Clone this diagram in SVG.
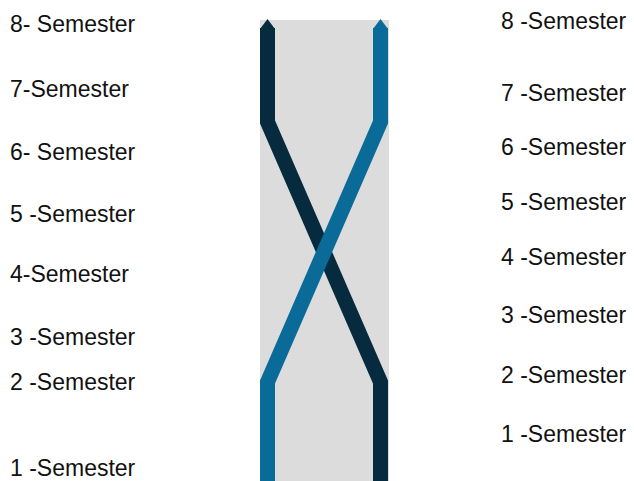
<svg xmlns="http://www.w3.org/2000/svg" width="634" height="481" viewBox="0 0 634 481">
  <style>
    .lbl { font-family: "Liberation Sans", Arial, sans-serif; font-size: 23px; fill: #111111; }
    .dark { stroke: #062a3e; fill: none; stroke-width: 15; stroke-linejoin: miter; }
    .blue { stroke: #0a6b99; fill: none; stroke-width: 15; stroke-linejoin: miter; }
  </style>
  <rect width="634" height="481" fill="#ffffff"/>
  <g id="band">
    <rect x="260" y="20" width="129" height="461" fill="#dcdcdc"/>
  </g>
  <g id="connectors">
    <g id="dark-strand">
      <polygon points="260,29 267.5,19 275,29" fill="#062a3e"/>
      <polyline class="dark" points="267.5,28 267.5,122 380.5,382 380.5,481"/>
    </g>
    <g id="blue-strand">
      <polygon points="373,29 380.5,19 388,29" fill="#0a6b99"/>
      <polyline class="blue" points="380.5,28 380.5,122 267.5,382 267.5,481"/>
    </g>
  </g>
  <g id="left-labels">
    <text class="lbl" x="10" y="31.5">8- Semester</text>
    <text class="lbl" x="10" y="96.5">7-Semester</text>
    <text class="lbl" x="10" y="159.5">6- Semester</text>
    <text class="lbl" x="10" y="221.5">5 -Semester</text>
    <text class="lbl" x="10" y="282">4-Semester</text>
    <text class="lbl" x="10" y="345">3 -Semester</text>
    <text class="lbl" x="10" y="390">2 -Semester</text>
    <text class="lbl" x="10" y="475.5">1 -Semester</text>
  </g>
  <g id="right-labels">
    <text class="lbl" x="501" y="29">8 -Semester</text>
    <text class="lbl" x="501" y="101">7 -Semester</text>
    <text class="lbl" x="501" y="155">6 -Semester</text>
    <text class="lbl" x="501" y="210">5 -Semester</text>
    <text class="lbl" x="501" y="265">4 -Semester</text>
    <text class="lbl" x="501" y="323">3 -Semester</text>
    <text class="lbl" x="501" y="383">2 -Semester</text>
    <text class="lbl" x="501" y="442">1 -Semester</text>
  </g>
</svg>
